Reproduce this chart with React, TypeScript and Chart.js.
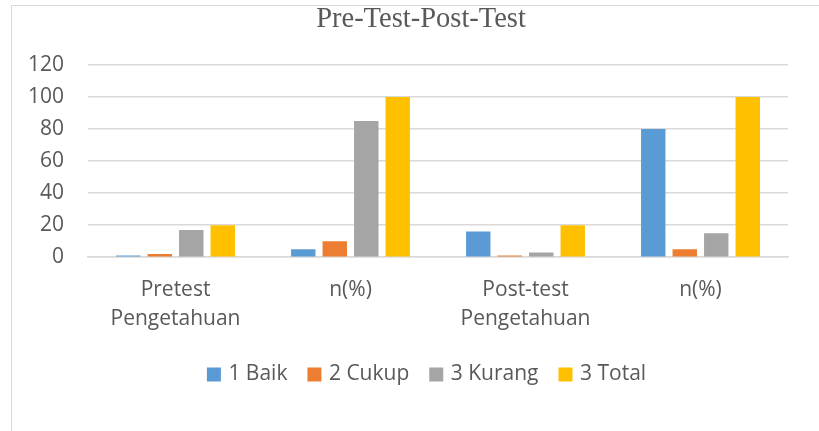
import React, { useEffect, useRef } from "react";
import { Chart, registerables } from "chart.js";

Chart.register(...registerables);

const categories: (string | string[])[] = [
  ["Pretest", "Pengetahuan"],
  "n(%)",
  ["Post-test", "Pengetahuan"],
  "n(%)",
];
const seriesNames = ["1 Baik", "2 Cukup", "3 Kurang", "3 Total"];
const baik = [1, 5, 16, 80];
const cukup = [2, 10, 1, 5];
const kurang = [17, 85, 3, 15];
const total = [20, 100, 20, 100];
const seriesColors = ["#5B9BD5", "#ED7D31", "#A5A5A5", "#FFC000"];
const yMin = 0;
const yMax = 120;
const yStep = 20;
const titleText = "Pre-Test-Post-Test";

const TEXT = "#595959";
const GRID = "#D9D9D9";
const FONT = "'Open Sans', 'Noto Sans', sans-serif";
const LEGEND_SHIFT_X = 32;
const LEGEND_SHIFT_Y = -11;

const framePlugin = {
  id: "frameTitle",
  afterLayout(chart: any) {
    const lg = chart.legend;
    if (lg) {
      lg.left += LEGEND_SHIFT_X;
      lg.right += LEGEND_SHIFT_X;
      lg.top += LEGEND_SHIFT_Y;
      lg.bottom += LEGEND_SHIFT_Y;
    }
  },
  afterDraw(chart: any) {
    const ctx = chart.ctx;
    ctx.save();
    ctx.font = "28.5px 'Liberation Serif', 'Times New Roman', serif";
    ctx.fillStyle = TEXT;
    ctx.textAlign = "center";
    ctx.textBaseline = "alphabetic";
    ctx.fillText(titleText, chart.width / 2 + 11.5, 27);
    ctx.restore();
  },
};

export default function App() {
  const ref = useRef<HTMLCanvasElement | null>(null);

  useEffect(() => {
    if (!ref.current) return;
    const allSeries = [baik, cukup, kurang, total];
    const chart = new Chart(ref.current, {
      type: "bar",
      data: {
        labels: categories,
        datasets: allSeries.map((d, i) => ({
          label: seriesNames[i],
          data: d,
          backgroundColor: seriesColors[i],
          borderWidth: 0,
          categoryPercentage: 0.72,
          barPercentage: 0.775,
        })),
      },
      options: {
        animation: false,
        responsive: false,
        maintainAspectRatio: false,
        layout: { padding: { left: 4, right: 31, top: 65, bottom: 25 } },
        plugins: {
          title: { display: false },
          tooltip: { enabled: false },
          legend: {
            display: true,
            position: "bottom",
            labels: {
              boxWidth: 8,
              boxHeight: 8,
              padding: 23,
              color: TEXT,
              font: { family: FONT, size: 21 },
              generateLabels(c: any) {
                const items = Chart.defaults.plugins.legend.labels.generateLabels(c);
                return items.map((it: any) => ({
                  ...it,
                  lineWidth: 6,
                  strokeStyle: it.fillStyle,
                }));
              },
            },
          },
        },
        scales: {
          x: {
            grid: { display: false, drawTicks: false },
            border: { display: true, color: GRID, width: 1.5 },
            ticks: {
              color: TEXT,
              font: { family: FONT, size: 21, lineHeight: 1.4 },
              padding: 18,
              maxRotation: 0,
              autoSkip: false,
            },
          },
          y: {
            min: yMin,
            max: yMax,
            grid: { color: GRID, lineWidth: 1.5, drawTicks: false },
            border: { display: false },
            ticks: {
              stepSize: yStep,
              color: TEXT,
              font: { family: FONT, size: 21 },
              padding: 24,
            },
          },
        },
      },
      plugins: [framePlugin],
    });
    return () => chart.destroy();
  }, []);

  return (
    <div
      style={{
        position: "fixed",
        left: 0,
        top: 0,
        width: 819,
        height: 431,
        background: "#FFFFFF",
        overflow: "hidden",
      }}
    >
      <div
        style={{
          position: "absolute",
          left: 11,
          top: 5,
          width: 830,
          height: 440,
          borderLeft: "1.5px solid #D9D9D9",
          borderTop: "1.5px solid #D9D9D9",
        }}
      />
      <canvas
        ref={ref}
        width={819}
        height={431}
        style={{ position: "absolute", left: 0, top: 0 }}
      />
    </div>
  );
}
